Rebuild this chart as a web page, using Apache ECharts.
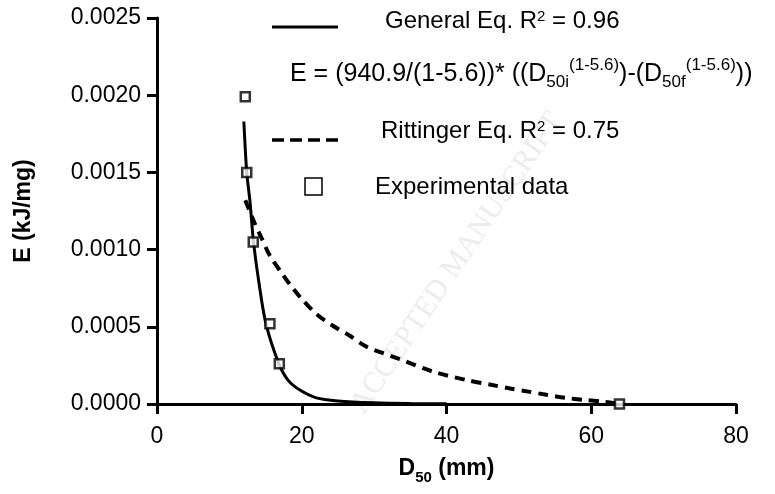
<!DOCTYPE html>
<html>
<head>
<meta charset="utf-8">
<script src="https://cdn.jsdelivr.net/npm/echarts@6/dist/echarts.min.js"></script>
<style>
  html, body { margin: 0; padding: 0; background: #fff; }
  #chart { width: 775px; height: 494px; }
</style>
</head>
<body>
<div id="chart"></div>
<script>
// experimental points [D50, E]
const expData = [[12.2, 0.00199], [12.4, 0.0015], [13.3, 0.00105], [15.6, 0.00052], [16.9, 0.00026], [63.9, 0]];
// general equation curve
const generalCurve = [[12.0, 0.00183], [12.4, 0.0015], [12.85, 0.00131], [13.1, 0.00117], [13.35, 0.00104],
  [14.1, 0.00078], [15.05, 0.00052], [16.8, 0.000265], [18.1, 0.000155], [19.75, 0.00009], [22, 0.00004],
  [25, 0.00002], [30, 0.000008], [35, 0.000003], [40, 0.000001]];
// rittinger equation curve
const rittingerCurve = [[12.2, 0.00132], [13.5, 0.00117], [14.5, 0.00107], [15.6, 0.00096], [17.2, 0.00085],
  [18.6, 0.00076], [20.2, 0.00067], [22.1, 0.00058], [24.2, 0.00051], [26.7, 0.00044], [29, 0.00037],
  [33.6, 0.00029], [38.1, 0.00021], [42.8, 0.000155], [46.3, 0.000123], [48.8, 0.0001], [51.3, 0.00008],
  [53.8, 0.00006], [56.4, 0.00004], [59.1, 0.000026], [61.7, 0.000015], [64, 0]];
const xTicks = [0, 20, 40, 60, 80];
const yTicks = [0, 0.0005, 0.001, 0.0015, 0.002, 0.0025];

const chart = echarts.init(document.getElementById('chart'));
const font = 'Liberation Sans, Arial, sans-serif';

const option = {
  animation: false,
  grid: { left: 157, right: 39, top: 18, bottom: 90 },
  xAxis: {
    type: 'value',
    min: xTicks[0],
    max: xTicks[xTicks.length - 1],
    interval: 20,
    splitLine: { show: false },
    axisLine: { lineStyle: { color: '#000', width: 3 } },
    axisTick: { length: 10, lineStyle: { color: '#000', width: 3 } },
    axisLabel: { color: '#000', fontSize: 23, fontFamily: font, margin: 21 },
    name: '{b|D}{s|50}{b| (mm)}',
    nameLocation: 'middle',
    nameGap: 53,
    nameTextStyle: {
      rich: {
        b: { fontSize: 23, fontWeight: 'bold', fontFamily: font, color: '#000' },
        s: { fontSize: 15, fontWeight: 'bold', fontFamily: font, color: '#000', verticalAlign: 'bottom', padding: [0, 0, -5, 0] }
      }
    }
  },
  yAxis: {
    type: 'value',
    min: yTicks[0],
    max: yTicks[yTicks.length - 1],
    interval: 0.0005,
    splitLine: { show: false },
    axisLine: { lineStyle: { color: '#000', width: 3 } },
    axisTick: { length: 10, lineStyle: { color: '#000', width: 3 } },
    axisLabel: { color: '#000', fontSize: 23, fontFamily: font, margin: 16, formatter: v => v.toFixed(4) },
    name: 'E (kJ/mg)',
    nameLocation: 'middle',
    nameRotate: 90,
    nameGap: 122,
    nameTextStyle: { fontSize: 23, fontWeight: 'bold', fontFamily: font, color: '#000' }
  },
  graphic: [
    {
      type: 'text', x: 345, y: 402, rotation: 56 * Math.PI / 180, z: -10, silent: true,
      style: { text: 'ACCEPTED MANUSCRIPT', font: '30px "Liberation Serif", serif', fill: '#ececec' }
    },
    { type: 'line', shape: { x1: 272, y1: 27, x2: 338, y2: 27 }, style: { stroke: '#000', lineWidth: 3 } },
    {
      type: 'text', x: 385, y: 21,
      style: {
        text: '{a|General Eq. R}{p|2}{a| = 0.96}', verticalAlign: 'middle',
        rich: {
          a: { fontSize: 24, fontFamily: font, fill: '#000' },
          p: { fontSize: 15, fontFamily: font, fill: '#000', verticalAlign: 'top' }
        }
      }
    },
    {
      type: 'text', x: 290, y: 74,
      style: {
        text: '{a|E = (940.9/(1-5.6))* ((D}{b|50i}{p|(1-5.6)}{a|)-(D}{b|50f}{p|(1-5.6)}{a|))}', verticalAlign: 'middle',
        rich: {
          a: { fontSize: 25, fontFamily: font, fill: '#000', height: 34 },
          b: { fontSize: 17, fontFamily: font, fill: '#000', verticalAlign: 'bottom' },
          p: { fontSize: 17, fontFamily: font, fill: '#000', verticalAlign: 'top' }
        }
      }
    },
    { type: 'line', shape: { x1: 272, y1: 140, x2: 338, y2: 140 }, style: { stroke: '#000', lineWidth: 3.5, lineDash: [12, 6] } },
    {
      type: 'text', x: 381, y: 131,
      style: {
        text: '{a|Rittinger Eq. R}{p|2}{a| = 0.75}', verticalAlign: 'middle',
        rich: {
          a: { fontSize: 24, fontFamily: font, fill: '#000' },
          p: { fontSize: 15, fontFamily: font, fill: '#000', verticalAlign: 'top' }
        }
      }
    },
    { type: 'rect', shape: { x: 305, y: 178, width: 17, height: 17 }, style: { fill: '#fff', stroke: '#000', lineWidth: 1.5 } },
    {
      type: 'text', x: 375, y: 187,
      style: { text: 'Experimental data', font: '24px ' + font, fill: '#000', verticalAlign: 'middle' }
    }
  ],
  series: [
    {
      name: 'General Eq.',
      type: 'line',
      data: generalCurve,
      smooth: 0.3,
      showSymbol: false,
      lineStyle: { color: '#000', width: 3 },
      z: 2
    },
    {
      name: 'Rittinger Eq.',
      type: 'line',
      data: rittingerCurve,
      smooth: 0.3,
      showSymbol: false,
      lineStyle: { color: '#000', width: 4, type: [10, 7] },
      z: 2
    },
    {
      name: 'Experimental data',
      type: 'scatter',
      data: expData,
      symbol: 'rect',
      symbolSize: 9,
      itemStyle: { color: '#fff', borderColor: '#000', borderWidth: 2.5 },
      z: 3
    }
  ]
};

chart.setOption(option);
window.addEventListener('resize', () => chart.resize());
</script>
</body>
</html>
